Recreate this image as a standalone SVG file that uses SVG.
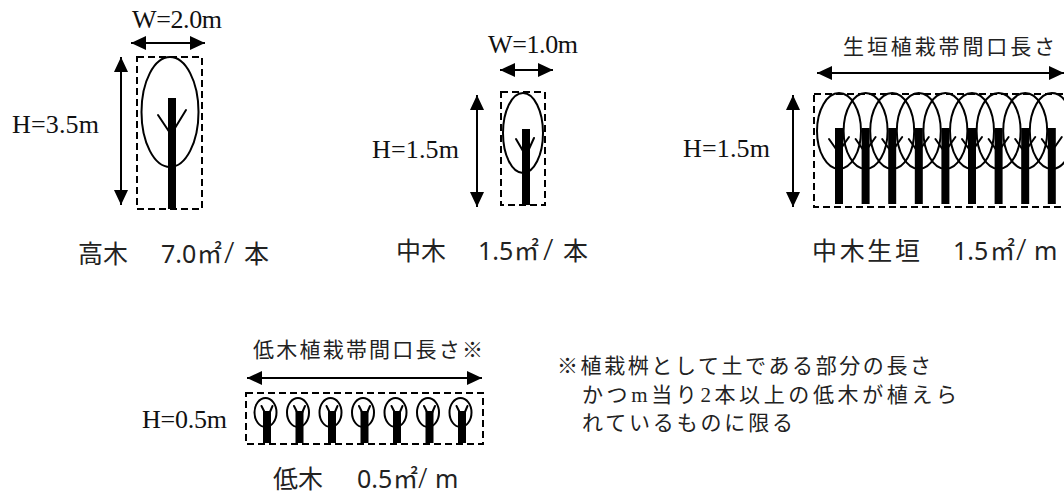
<svg xmlns="http://www.w3.org/2000/svg" width="1064" height="494" viewBox="0 0 1064 494">
  <style>
    .bg { fill: #ffffff; }
    .frame { fill: none; stroke: #000; stroke-width: 2; stroke-dasharray: 7 4; }
    .crown { fill: none; stroke: #000; stroke-width: 2; }
    .trunk { fill: #000; }
    .branch { fill: none; stroke: #000; stroke-width: 2; stroke-linecap: round; }
    .dim { fill: none; stroke: #000; stroke-width: 2; marker-start: url(#head); marker-end: url(#head); }
    .lat { font-family: "Liberation Serif", serif; font-size: 26px; fill: #111; }
    .min { font-family: "Liberation Serif", "Noto Sans CJK JP", serif; font-size: 21px; fill: #222; }
    .goth { font-family: "Noto Sans", "Noto Sans CJK JP", sans-serif; font-size: 25px; fill: #222; }
    .sl { font-size: 30px; font-weight: 300; }
    .sl-low { font-size: 27px; font-weight: 300; }
  </style>
  <defs>
    <marker id="head" viewBox="0 0 15 14" markerWidth="15" markerHeight="14" refX="15" refY="7" orient="auto-start-reverse" markerUnits="userSpaceOnUse">
      <path d="M0,0 L15,7 L0,14 z" fill="#000"/>
    </marker>
    <!-- hedge plant: crown, trunk and twigs, centred on x=0 -->
    <g id="hedgePlant">
      <ellipse class="crown" cx="0" cy="131" rx="22" ry="38"/>
      <rect class="trunk" x="-4" y="128" width="8" height="76"/>
      <path class="branch" d="M-10,139 L-3,149 M10,137 L3,147"/>
    </g>
    <!-- shrub: small crown, short trunk -->
    <g id="shrub">
      <ellipse class="crown" cx="0" cy="412.5" rx="11" ry="14.5"/>
      <rect class="trunk" x="-2.5" y="411" width="8" height="32"/>
      <path class="branch" d="M-4,406 L0,414 M7,406 L4,413"/>
    </g>
  </defs>

  <rect class="bg" x="0" y="0" width="1064" height="494"/>

  <!-- tall tree -->
  <g id="tall-tree">
    <rect class="frame" x="137" y="57" width="65" height="152"/>
    <ellipse class="crown" cx="170" cy="112" rx="28.5" ry="55"/>
    <rect class="trunk" x="168" y="98" width="8" height="111"/>
    <path class="branch" d="M158,115 L172,136 M186,110 L175,128"/>
    <text class="lat" x="132" y="28" textLength="90">W=2.0m</text>
    <text class="lat" x="12" y="133" textLength="87">H=3.5m</text>
    <text class="goth" y="263"><tspan x="78">高木</tspan><tspan x="161">7.0</tspan><tspan x="197">㎡</tspan><tspan class="sl" x="224">/</tspan><tspan x="244">本</tspan></text>
  </g>

  <!-- medium tree -->
  <g id="medium-tree">
    <rect class="frame" x="501" y="92" width="44" height="113"/>
    <ellipse class="crown" cx="523" cy="133" rx="20" ry="40"/>
    <rect class="trunk" x="522" y="129" width="8" height="76"/>
    <path class="branch" d="M516,139 L523,151 M534,138 L529,149"/>
    <text class="lat" x="488" y="53" textLength="90">W=1.0m</text>
    <text class="lat" x="372" y="158" textLength="87">H=1.5m</text>
    <text class="goth" y="260"><tspan x="396">中木</tspan><tspan x="478">1.5</tspan><tspan x="514">㎡</tspan><tspan class="sl" x="543">/</tspan><tspan x="563">本</tspan></text>
  </g>

  <!-- medium-tree hedge -->
  <g id="hedge">
    <rect class="frame" x="814" y="94" width="254" height="113"/>
    <use href="#hedgePlant" x="839"/>
    <use href="#hedgePlant" x="865.6"/>
    <use href="#hedgePlant" x="892.2"/>
    <use href="#hedgePlant" x="918.8"/>
    <use href="#hedgePlant" x="945.4"/>
    <use href="#hedgePlant" x="972"/>
    <use href="#hedgePlant" x="998.6"/>
    <use href="#hedgePlant" x="1025.2"/>
    <use href="#hedgePlant" x="1051.8"/>
    <text class="min" x="843" y="54" textLength="212">生垣植栽帯間口長さ</text>
    <text class="lat" x="683" y="157" textLength="87">H=1.5m</text>
    <text class="goth" x="812" y="260" textLength="108">中木生垣</text>
    <text class="goth" y="260"><tspan x="953">1.5</tspan><tspan x="990">㎡</tspan><tspan class="sl" x="1016">/</tspan><tspan x="1034">m</tspan></text>
  </g>

  <!-- low shrubs -->
  <g id="low-shrubs">
    <rect class="frame" x="246" y="393" width="237" height="51"/>
    <use href="#shrub" x="265.5"/>
    <use href="#shrub" x="298"/>
    <use href="#shrub" x="330.5"/>
    <use href="#shrub" x="363"/>
    <use href="#shrub" x="395.5"/>
    <use href="#shrub" x="428"/>
    <use href="#shrub" x="460.5"/>
    <text class="min" x="253" y="357" textLength="230">低木植栽帯間口長さ※</text>
    <text class="lat" x="142" y="428" textLength="85">H=0.5m</text>
    <text class="goth" y="488"><tspan x="273">低木</tspan><tspan x="357">0.5</tspan><tspan x="393">㎡</tspan><tspan class="sl-low" x="418">/</tspan><tspan x="435">m</tspan></text>
  </g>

  <!-- footnote -->
  <g id="note">
    <text class="min" x="557" y="373" textLength="374">※植栽桝として土である部分の長さ</text>
    <text class="min" x="582" y="402" textLength="375">かつm当り2本以上の低木が植えら</text>
    <text class="min" x="582" y="430" textLength="211">れているものに限る</text>
  </g>

  <!-- dimension arrows -->
  <g id="connectors">
    <line class="dim" x1="131" y1="43" x2="205" y2="43"/>
    <line class="dim" x1="121" y1="57" x2="121" y2="205"/>
    <line class="dim" x1="500" y1="70" x2="553" y2="70"/>
    <line class="dim" x1="477" y1="95" x2="477" y2="207"/>
    <line class="dim" x1="817" y1="73" x2="1064" y2="73"/>
    <line class="dim" x1="793" y1="95" x2="793" y2="207"/>
    <line class="dim" x1="247" y1="378" x2="482" y2="378"/>
  </g>
</svg>
